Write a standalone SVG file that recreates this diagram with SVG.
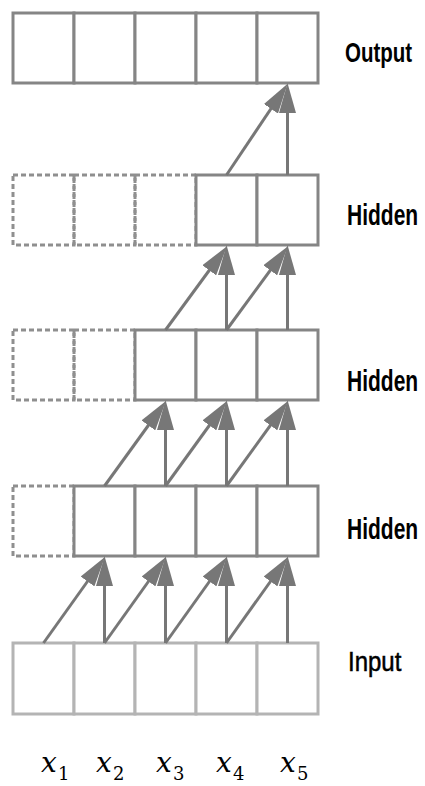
<svg xmlns="http://www.w3.org/2000/svg" width="425" height="786" viewBox="0 0 425 786">
<style>
.cell{fill:#fff;stroke:#858585;stroke-width:3}
.inp{fill:#fff;stroke:#b4b4b4;stroke-width:3}
.dash{fill:none;stroke:#8f8f8f;stroke-width:3;stroke-dasharray:5 3}
.lbl{font-family:"Liberation Sans",Arial,sans-serif;font-weight:bold;fill:#000}
.lblr{font-family:"Liberation Sans",Arial,sans-serif;fill:#000;stroke:#000;stroke-width:0.45}
.mx{font-family:"DejaVu Serif",serif;font-style:italic;font-size:28px;fill:#000}
.ms{font-family:"DejaVu Serif",serif;font-size:18px;fill:#000}
.arr line{stroke:#777;stroke-width:3;marker-end:url(#ah)}
</style>
<defs>
<marker id="ah" markerUnits="userSpaceOnUse" markerWidth="30" markerHeight="17" refX="19" refY="8.5" orient="auto" viewBox="0 0 30 17">
<path d="M0,0 L30,8.5 L0,17 z" fill="#777"/>
</marker>
</defs>

<g id="output">
<rect class="cell" x="13" y="13" width="61" height="70"/>
<rect class="cell" x="74" y="13" width="61" height="70"/>
<rect class="cell" x="135" y="13" width="61" height="70"/>
<rect class="cell" x="196" y="13" width="61" height="70"/>
<rect class="cell" x="257" y="13" width="61" height="70"/>
<text class="lbl" transform="translate(345,62) scale(1,1.36)" font-size="20.5">Output</text>
</g>

<g id="hidden3">
<rect class="dash" x="13" y="175" width="61" height="70"/>
<rect class="dash" x="74" y="175" width="61" height="70"/>
<rect class="dash" x="135" y="175" width="61" height="70"/>
<rect class="cell" x="196" y="175" width="61" height="70"/>
<rect class="cell" x="257" y="175" width="61" height="70"/>
<text class="lbl" transform="translate(347,225) scale(1,1.4)" font-size="21">Hidden</text>
</g>

<g id="hidden2">
<rect class="dash" x="13" y="330" width="61" height="70"/>
<rect class="dash" x="74" y="330" width="61" height="70"/>
<rect class="cell" x="135" y="330" width="61" height="70"/>
<rect class="cell" x="196" y="330" width="61" height="70"/>
<rect class="cell" x="257" y="330" width="61" height="70"/>
<text class="lbl" transform="translate(347,391) scale(1,1.4)" font-size="21">Hidden</text>
</g>

<g id="hidden1">
<rect class="dash" x="13" y="486" width="61" height="70"/>
<rect class="cell" x="74" y="486" width="61" height="70"/>
<rect class="cell" x="135" y="486" width="61" height="70"/>
<rect class="cell" x="196" y="486" width="61" height="70"/>
<rect class="cell" x="257" y="486" width="61" height="70"/>
<text class="lbl" transform="translate(347,539) scale(1,1.4)" font-size="21">Hidden</text>
</g>

<g id="input">
<rect class="inp" x="13" y="643" width="61" height="71"/>
<rect class="inp" x="74" y="643" width="61" height="71"/>
<rect class="inp" x="135" y="643" width="61" height="71"/>
<rect class="inp" x="196" y="643" width="61" height="71"/>
<rect class="inp" x="257" y="643" width="61" height="71"/>
<text class="lblr" transform="translate(348,671) scale(1,1.12)" font-size="24">Input</text>
</g>

<g id="xlabels">
<text class="mx" x="41" y="772">x</text><text class="ms" x="58" y="780">1</text>
<text class="mx" x="96" y="772">x</text><text class="ms" x="113" y="780">2</text>
<text class="mx" x="156" y="772">x</text><text class="ms" x="173" y="780">3</text>
<text class="mx" x="216" y="772">x</text><text class="ms" x="233" y="780">4</text>
<text class="mx" x="280" y="772">x</text><text class="ms" x="297" y="780">5</text>
</g>

<g id="connectors" class="arr">
<line x1="43.5" y1="643" x2="98.5" y2="566"/>
<line x1="104.5" y1="643" x2="104.5" y2="567"/>
<line x1="104.5" y1="643" x2="159.5" y2="566"/>
<line x1="165.5" y1="643" x2="165.5" y2="567"/>
<line x1="165.5" y1="643" x2="220.5" y2="566"/>
<line x1="226.5" y1="643" x2="226.5" y2="567"/>
<line x1="226.5" y1="643" x2="281.5" y2="566"/>
<line x1="287.5" y1="643" x2="287.5" y2="567"/>
<line x1="104.5" y1="486" x2="159.5" y2="410"/>
<line x1="165.5" y1="486" x2="165.5" y2="411"/>
<line x1="165.5" y1="486" x2="220.5" y2="410"/>
<line x1="226.5" y1="486" x2="226.5" y2="411"/>
<line x1="226.5" y1="486" x2="281.5" y2="410"/>
<line x1="287.5" y1="486" x2="287.5" y2="411"/>
<line x1="165.5" y1="330" x2="220.5" y2="255"/>
<line x1="226.5" y1="330" x2="226.5" y2="256"/>
<line x1="226.5" y1="330" x2="281.5" y2="255"/>
<line x1="287.5" y1="330" x2="287.5" y2="256"/>
<line x1="226.5" y1="175" x2="281.5" y2="93"/>
<line x1="287.5" y1="175" x2="287.5" y2="94"/>
</g>
</svg>
